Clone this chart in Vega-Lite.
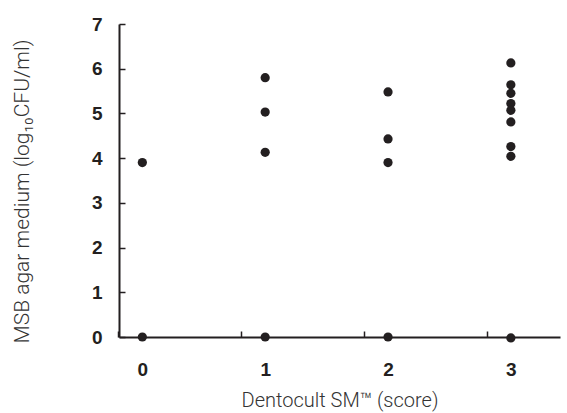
{
  "$schema": "https://vega.github.io/schema/vega-lite/v6.json",
  "autosize": "none",
  "width": 441,
  "height": 313,
  "padding": {"left": 119, "top": 24, "right": 7, "bottom": 76},
  "background": "white",
  "data": {
    "values": [
      {"score": 0, "cfu": 3.9},
      {"score": 0, "cfu": 0},
      {"score": 1, "cfu": 5.8},
      {"score": 1, "cfu": 5.03},
      {"score": 1, "cfu": 4.13},
      {"score": 1, "cfu": 0},
      {"score": 2, "cfu": 5.48},
      {"score": 2, "cfu": 4.43},
      {"score": 2, "cfu": 3.9},
      {"score": 2, "cfu": 0},
      {"score": 3, "cfu": 6.13},
      {"score": 3, "cfu": 5.64},
      {"score": 3, "cfu": 5.45},
      {"score": 3, "cfu": 5.22},
      {"score": 3, "cfu": 5.07},
      {"score": 3, "cfu": 4.81},
      {"score": 3, "cfu": 4.26},
      {"score": 3, "cfu": 4.04},
      {"score": 3, "cfu": -0.02}
    ]
  },
  "config": {
    "view": {"stroke": null},
    "axis": {
      "grid": false,
      "domainColor": "#231f20",
      "domainWidth": 2,
      "tickColor": "#231f20",
      "tickWidth": 1.5,
      "labelFont": "Liberation Sans",
      "labelFontWeight": "bold",
      "labelFontSize": 19,
      "labelColor": "#231f20",
      "titleFont": "Roboto",
      "titleFontWeight": 300,
      "titleColor": "#333333"
    }
  },
  "mark": {"type": "circle", "size": 85, "color": "#231f20", "opacity": 1},
  "encoding": {
    "x": {
      "field": "score",
      "type": "quantitative",
      "scale": {"domain": [-0.19, 3.4], "nice": false, "zero": false},
      "axis": {
        "values": [0, 1, 2, 3],
        "format": "d",
        "tickSize": -6,
        "tickOffset": -24,
        "labelOffset": 24,
        "labelPadding": 29,
        "title": "Dentocult SM™ (score)",
        "titleFontSize": 20,
        "titleBaseline": "middle",
        "titleY": 63
      }
    },
    "y": {
      "field": "cfu",
      "type": "quantitative",
      "scale": {"domain": [0, 7], "nice": false},
      "axis": {
        "values": [0, 1, 2, 3, 4, 5, 6, 7],
        "tickSize": -6,
        "labelPadding": 23,
        "title": "MSB agar medium (log₁₀CFU/ml)",
        "titleFontSize": 21,
        "titleBaseline": "middle",
        "titleX": -97,
        "titleY": 167
      }
    }
  }
}
